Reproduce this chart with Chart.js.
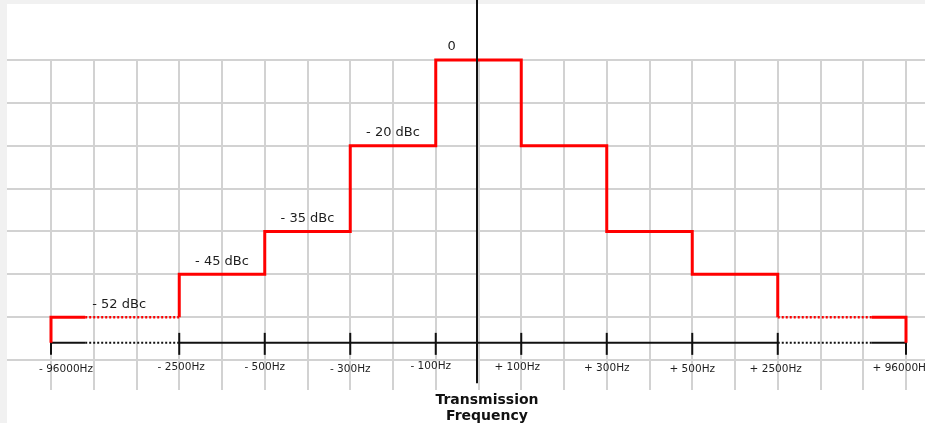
<!DOCTYPE html>
<html><head><meta charset="utf-8">
<script src="https://cdn.jsdelivr.net/npm/chart.js@4.4.0/dist/chart.umd.min.js"></script>
<style>html,body{margin:0;padding:0;background:#f1f1f1;overflow:hidden}canvas{display:block}</style>
</head><body>
<canvas id="c" width="925" height="423"></canvas>
<script>
// ---- data ----
const freqLabels = ['- 96000Hz','- 2500Hz','- 500Hz','- 300Hz','- 100Hz','+ 100Hz','+ 300Hz','+ 500Hz','+ 2500Hz','+ 96000Hz'];
const bandLevels = [-52, -45, -35, -20, 0, -20, -35, -45, -52];   // dBc between consecutive edges
const bandLabels = ['- 52 dBc', '- 45 dBc', '- 35 dBc', '- 20 dBc', '0'];
const axisTitle = ['Transmission', 'Frequency'];

// ---- schematic layout of the (broken) axes ----
const L = {
  freqCol: [0, 3, 5, 7, 9, 11, 13, 15, 17, 20],
  breakL: 0.8, breakR: 19.2,
  levelRow: { '0': 7, '-20': 5, '-35': 3, '-45': 2, '-52': 1 },
  axisRow: 0.4
};
const row = db => L.levelRow[String(db)];
const nC = L.freqCol.length;

const maskPts = [{ x: L.freqCol[0], y: L.axisRow }];
bandLevels.forEach((lv, i) => {
  const r = row(lv);
  maskPts.push({ x: L.freqCol[i], y: r });
  if (i === 0) maskPts.push({ x: L.breakL, y: r });
  if (i === bandLevels.length - 1) maskPts.push({ x: L.breakR, y: r });
  maskPts.push({ x: L.freqCol[i + 1], y: r });
});
maskPts.push({ x: L.freqCol[nC - 1], y: L.axisRow });

const axisPts = [L.freqCol[0], L.breakL, L.freqCol[1], L.freqCol[nC - 2], L.breakR, L.freqCol[nC - 1]]
  .map(x => ({ x, y: L.axisRow }));

function dashed(c, pts) {
  const a = pts[c.p0DataIndex], b = pts[c.p1DataIndex];
  if (!a || !b || a.y !== b.y) return false;
  return (a.x >= L.breakL && b.x <= L.freqCol[1]) || (a.x >= L.freqCol[nC - 2] && b.x <= L.breakR);
}

const PX = 42.75;
const xMin = -44 / PX, xMax = xMin + 918 / PX;

const deco = {
  id: 'deco',
  beforeDraw(chart) {
    const c = chart.ctx;
    c.save();
    c.fillStyle = '#f1f1f1'; c.fillRect(0, 0, chart.width, chart.height);
    c.fillStyle = '#ffffff'; c.fillRect(7, 4, chart.width - 7, chart.height - 4);
    c.restore();
  },
  beforeDatasetsDraw(chart) {
    const c = chart.ctx, xs = chart.scales.x, ys = chart.scales.y;
    const y0 = ys.getPixelForValue(L.axisRow);
    c.save();
    c.strokeStyle = '#111'; c.lineWidth = 2;
    L.freqCol.forEach(col => {
      const x = xs.getPixelForValue(col);
      c.beginPath(); c.moveTo(x, y0 - 10); c.lineTo(x, y0 + 12); c.stroke();
    });
    c.restore();
  },
  afterDatasetsDraw(chart) {
    const c = chart.ctx, xs = chart.scales.x, ys = chart.scales.y;
    const xc = xs.getPixelForValue((L.freqCol[4] + L.freqCol[5]) / 2) - 1.5;
    c.save();
    c.strokeStyle = '#111'; c.lineWidth = 2;
    c.beginPath(); c.moveTo(xc, 0); c.lineTo(xc, ys.getPixelForValue(-0.54)); c.stroke();
    c.restore();
  },
  afterDraw(chart, args, opts) {
    const c = chart.ctx, xs = chart.scales.x, ys = chart.scales.y;
    c.save();
    c.fillStyle = '#1e1e1e';
    c.textAlign = 'center'; c.textBaseline = 'middle';
    // level labels
    c.font = '13px "DejaVu Sans"';
    bandLabels.forEach((t, i) => {
      const x0 = xs.getPixelForValue(L.freqCol[i]), x1 = xs.getPixelForValue(L.freqCol[i + 1]);
      const x = bandLevels[i] === 0 ? x0 + 16 : (x0 + x1) / 2 + (i === 0 ? 4 : 0);
      c.fillText(t, x, ys.getPixelForValue(row(bandLevels[i])) - 13);
    });
    // frequency labels
    c.font = '10.5px "DejaVu Sans"';
    const y0 = ys.getPixelForValue(L.axisRow);
    freqLabels.forEach((t, i) => {
      c.fillText(t, xs.getPixelForValue(L.freqCol[i]) + opts.dx[i], y0 + opts.dy[i]);
    });
    // axis title
    c.fillStyle = '#111';
    c.font = 'bold 14px "DejaVu Sans"';
    axisTitle.forEach((t, i) => c.fillText(t, 487, 400.5 + i * 16));
    c.restore();
  }
};

new Chart(document.getElementById('c'), {
  type: 'line',
  data: {
    datasets: [
      { data: maskPts, borderColor: '#ff0000', borderWidth: 3, pointRadius: 0, clip: false, tension: 0,
        segment: {
          borderDash: c => dashed(c, maskPts) ? [2, 2] : undefined,
          borderWidth: c => dashed(c, maskPts) ? 2.5 : undefined
        } },
      { data: axisPts, borderColor: '#111111', borderWidth: 2, pointRadius: 0, clip: false, tension: 0,
        segment: { borderDash: c => dashed(c, axisPts) ? [2, 2] : undefined } }
    ]
  },
  options: {
    responsive: false, animation: false, devicePixelRatio: 1,
    layout: { padding: { left: 7, top: 60, right: 0, bottom: 33 } },
    plugins: {
      legend: { display: false }, tooltip: { enabled: false },
      deco: { dx: [15, 2, 0, 0, -5, -4, 0, 0, -2, -4], dy: [26, 24, 24, 26, 23, 24, 25, 26, 26, 25] }
    },
    scales: {
      x: {
        type: 'linear', min: xMin, max: xMax,
        grid: { color: '#d2d2d2', lineWidth: 2, drawTicks: false },
        border: { display: false }, ticks: { display: false },
        afterBuildTicks: s => { s.ticks = Array.from({ length: 21 }, (_, i) => ({ value: i })); }
      },
      y: {
        type: 'linear', min: -0.7, max: 7,
        grid: { color: '#d2d2d2', lineWidth: 2, drawTicks: false },
        border: { display: false }, ticks: { display: false },
        afterBuildTicks: s => { s.ticks = Array.from({ length: 8 }, (_, i) => ({ value: i })); }
      }
    }
  },
  plugins: [deco]
});
</script>
</body></html>
